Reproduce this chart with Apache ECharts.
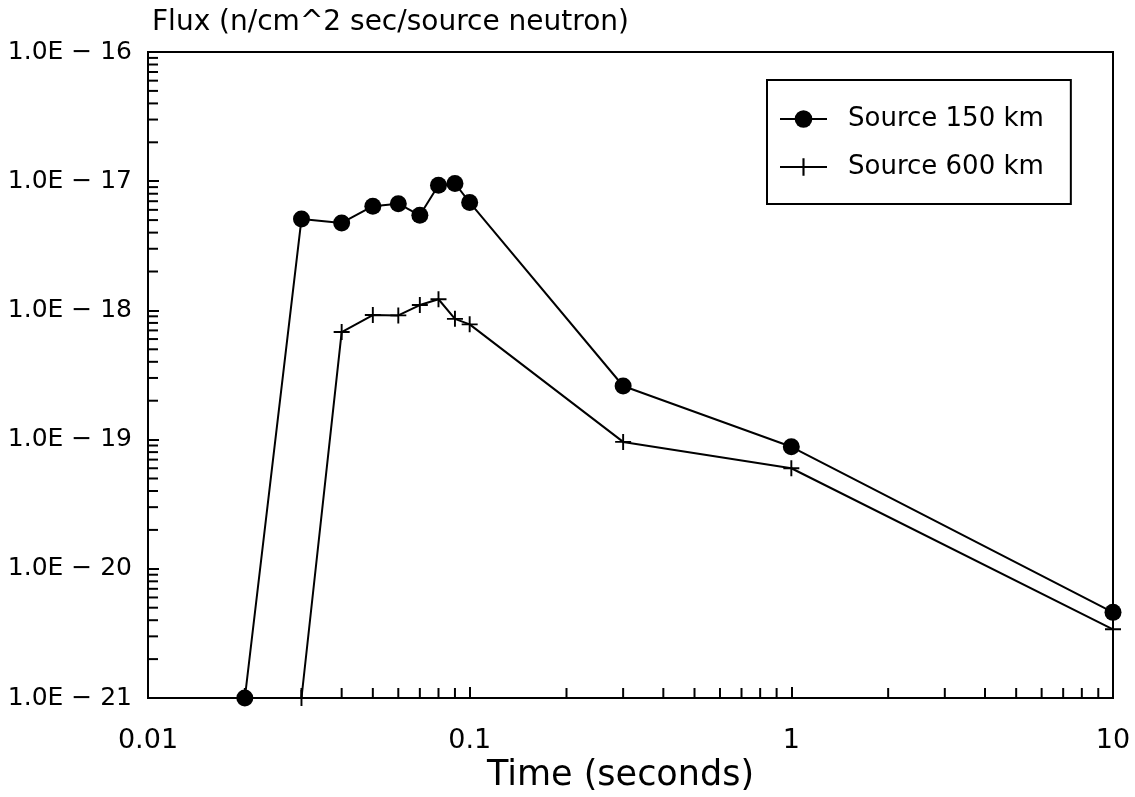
<!DOCTYPE html>
<html>
<head>
<meta charset="utf-8">
<script src="https://cdn.jsdelivr.net/npm/echarts@6/dist/echarts.min.js"></script>
<style>
html,body{margin:0;padding:0;background:#fff;}
#chart{width:1135px;height:797px;}
</style>
</head>
<body>
<div id="chart"></div>
<script>
// ---- data ----
const seriesNames = ['Source 150 km', 'Source 600 km'];
const time150 = [0.02, 0.03, 0.04, 0.05, 0.06, 0.07, 0.08, 0.09, 0.1, 0.3, 1, 10];
const flux150 = [1.0e-21, 5.1e-18, 4.75e-18, 6.4e-18, 6.7e-18, 5.45e-18, 9.3e-18, 9.6e-18, 6.85e-18, 2.6e-19, 8.8e-20, 4.6e-21];
const time600 = [0.03, 0.04, 0.05, 0.06, 0.07, 0.08, 0.09, 0.1, 0.3, 1, 10];
const flux600 = [1.0e-21, 6.8e-19, 9.2e-19, 9.15e-19, 1.1e-18, 1.22e-18, 8.6e-19, 7.8e-19, 9.6e-20, 6.0e-20, 3.4e-21];
const xTickLabels = {'0.01': '0.01', '0.1': '0.1', '1': '1', '10': '10'};
const yTickLabels = {'-21': '1.0E \u2212 21', '-20': '1.0E \u2212 20', '-19': '1.0E \u2212 19', '-18': '1.0E \u2212 18', '-17': '1.0E \u2212 17', '-16': '1.0E \u2212 16'};
const minorMultipliers = [2, 3, 4, 5, 6, 7, 8, 9];
const xDecades = [0.01, 0.1, 1];
const yDecades = [1e-21, 1e-20, 1e-19, 1e-18, 1e-17];
const titleText = 'Flux (n/cm^2 sec/source neutron)';
const xName = 'Time (seconds)';

// ECharts' log scale misbehaves with a min of 1e-21, so flux is plotted in units of 1e-21
// on the library's log axis, and the labels are shifted back by 21 decades.
const Y_UNIT = 1e-21, Y_SHIFT = -21;
const X_MIN = 0.01, X_MAX = 10, Y_MIN = 1e-21, Y_MAX = 1e-16;
const toY = f => f / Y_UNIT;
const xMinor = [];
xDecades.forEach(d => minorMultipliers.forEach(m => xMinor.push(+(m * d).toPrecision(3))));
const yMinor = [];
yDecades.forEach(d => minorMultipliers.forEach(m => yMinor.push(m * d)));

const FONT = 'DejaVu Sans';
const plusPath = 'path://M4.4,0H5.6V4.4H10V5.6H5.6V10H4.4V5.6H0V4.4H4.4Z';

const chart = echarts.init(document.getElementById('chart'), null, {renderer: 'canvas'});
chart.setOption({
  backgroundColor: '#fff',
  animation: false,
  grid: {left: 148, right: 22, top: 52, bottom: 99, show: true, borderColor: '#000', borderWidth: 2,
    backgroundColor: 'transparent', containLabel: false, outerBoundsMode: 'none'},
  legend: {
    data: seriesNames,
    orient: 'vertical',
    left: 767, top: 80,
    padding: [26, 27, 24, 12],
    itemGap: 22,
    itemWidth: 47, itemHeight: 22,
    borderColor: '#000', borderWidth: 2,
    backgroundColor: '#fff',
    textStyle: {fontFamily: FONT, fontSize: 26, color: '#000', padding: [0, 0, 0, 16]}
  },
  xAxis: {
    type: 'log', logBase: 10, min: X_MIN, max: X_MAX,
    name: xName, nameLocation: 'middle', nameGap: 57,
    nameTextStyle: {fontFamily: FONT, fontSize: 35, color: '#000', padding: [0, 20, 0, 0]},
    axisLine: {lineStyle: {color: '#000', width: 2}},
    axisTick: {inside: true, length: 11, lineStyle: {color: '#000', width: 2}},
    axisLabel: {fontFamily: FONT, fontSize: 27, color: '#000', margin: 29,
      formatter: v => xTickLabels[String(+(+v).toPrecision(3))] || ''},
    splitLine: {show: false}
  },
  yAxis: {
    type: 'log', logBase: 10, min: toY(Y_MIN), max: toY(Y_MAX),
    name: titleText, nameLocation: 'end', nameGap: 15,
    nameTextStyle: {fontFamily: FONT, fontSize: 28, color: '#000', align: 'left', padding: [0, 0, 0, 4]},
    axisLine: {lineStyle: {color: '#000', width: 2}},
    axisTick: {inside: true, length: 11, lineStyle: {color: '#000', width: 2}},
    axisLabel: {fontFamily: FONT, fontSize: 25, color: '#000', margin: 16,
      formatter: v => yTickLabels[String(Math.round(Math.log10(v)) + Y_SHIFT)] || ''},
    splitLine: {show: false}
  },
  series: [
    {
      name: seriesNames[0], type: 'line',
      data: time150.map((t, i) => [t, toY(flux150[i])]),
      symbol: 'circle', symbolSize: 17,
      lineStyle: {color: '#000', width: 2},
      itemStyle: {color: '#000'},
      clip: false, z: 5
    },
    {
      name: seriesNames[1], type: 'line',
      data: time600.map((t, i) => [t, toY(flux600[i])]),
      symbol: plusPath, symbolSize: 16,
      lineStyle: {color: '#000', width: 2},
      itemStyle: {color: '#000'},
      clip: false, z: 5
    },
    {
      type: 'custom', name: 'xminor', silent: true,
      data: xMinor.map(v => [v, toY(Y_MIN)]),
      renderItem: (params, api) => {
        const p = api.coord([api.value(0), api.value(1)]);
        return {type: 'line', shape: {x1: p[0], y1: p[1], x2: p[0], y2: p[1] - 10}, style: {stroke: '#000', lineWidth: 2}};
      }
    },
    {
      type: 'custom', name: 'yminor', silent: true,
      data: yMinor.map(v => [X_MIN, toY(v)]),
      renderItem: (params, api) => {
        const p = api.coord([api.value(0), api.value(1)]);
        return {type: 'line', shape: {x1: p[0], y1: p[1], x2: p[0] + 10, y2: p[1]}, style: {stroke: '#000', lineWidth: 2}};
      }
    }
  ]
});
</script>
</body>
</html>
